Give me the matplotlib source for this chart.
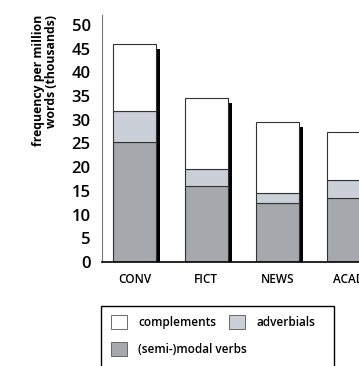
import numpy as np
import matplotlib.pyplot as plt
from matplotlib.patches import Patch, Rectangle

registers = ['CONV', 'FICT', 'NEWS', 'ACAD']
modal = [25.3, 16.1, 12.4, 13.4]
adverbials = [6.6, 3.6, 2.2, 3.8]
complements = [14.0, 14.8, 14.9, 10.2]

plt.rcParams['font.family'] = ['Open Sans', 'DejaVu Sans']

fig = plt.figure(figsize=(3.59, 3.66), dpi=100)
# axes runs off the right edge, the last bar is cut like in the scan
ax = fig.add_axes([101.7 / 359, 1 - 262 / 366, 330 / 359, 247 / 366])

x = np.arange(len(registers))
modal = np.array(modal)
adverbials = np.array(adverbials)
complements = np.array(complements)
total = modal + adverbials + complements
w = 0.60

# drop shadow on the right side of each bar
ax.bar(x + w / 2 + 0.028, total - 1.0, width=0.055, color='black', lw=0, zorder=1)
ax.bar(x, modal, width=w, color='#a5a8ad', edgecolor='#333333', lw=0.8, zorder=2)
ax.bar(x, adverbials, bottom=modal, width=w, color='#cbcfd8', edgecolor='#333333', lw=0.8, zorder=2)
ax.bar(x, complements, bottom=modal + adverbials, width=w, color='white',
       edgecolor='#333333', lw=0.8, zorder=2)

ax.set_xlim(-0.463, 4.16)
ax.set_ylim(0, 52.1)
ax.set_yticks(np.arange(0, 51, 5))
ax.set_xticks(x)
ax.set_xticklabels(registers, fontsize=8.5, fontweight='semibold')
ax.tick_params(axis='y', length=0, pad=8, labelsize=12)
ax.tick_params(axis='x', length=0, pad=8)
for lab in ax.get_yticklabels():
    lab.set_fontweight('semibold')
ax.spines['top'].set_visible(False)
ax.spines['right'].set_visible(False)
ax.spines['left'].set_color('#777777')
ax.spines['left'].set_linewidth(0.8)
ax.spines['bottom'].set_linewidth(1.2)

fig.text(45 / 359, 1 - 15 / 366, 'frequency per million\nwords (thousands)', rotation=90,
         ha='center', va='top', multialignment='right', fontsize=8.8, fontweight='bold',
         linespacing=1.05)

# legend: box drawn by hand, two rows of entries inside
fig.add_artist(Rectangle((101 / 359, 1 - 372 / 366), 233 / 359, 66 / 366,
                         transform=fig.transFigure, fill=False, ec='black', lw=1.0))
leg_kw = dict(frameon=False, loc='upper left', borderpad=0, borderaxespad=0,
              prop={'size': 8.5, 'weight': 'semibold'}, handlelength=1.36,
              handleheight=1.5, handletextpad=0.95, columnspacing=1.1)
row1 = [Patch(facecolor='white', edgecolor='#555555', lw=0.6, label='complements'),
        Patch(facecolor='#cbcfd8', edgecolor='#555555', lw=0.6, label='adverbials')]
row2 = [Patch(facecolor='#a5a8ad', edgecolor='#555555', lw=0.6, label='(semi-)modal verbs')]
fig.legend(handles=row1, ncol=2, bbox_to_anchor=(111 / 359, 1 - 315 / 366), **leg_kw)
fig.legend(handles=row2, ncol=1, bbox_to_anchor=(111 / 359, 1 - 341.5 / 366), **leg_kw)

plt.savefig('out.png', dpi=100)
